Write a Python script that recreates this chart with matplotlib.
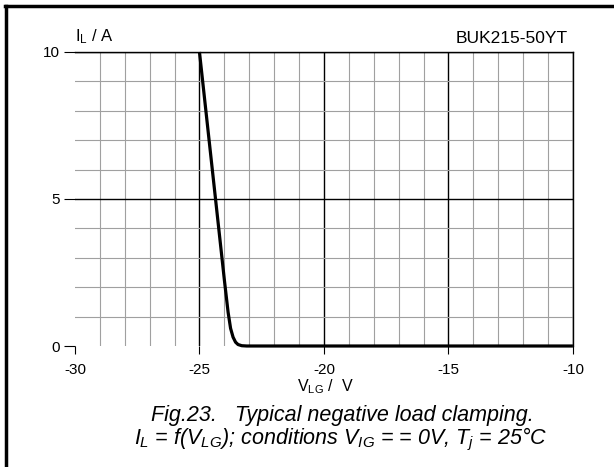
import matplotlib
matplotlib.use("Agg")
import matplotlib.pyplot as plt
from matplotlib.lines import Line2D
import numpy as np

plt.rcParams['font.family'] = ['Liberation Sans', 'DejaVu Sans']
plt.rcParams['mathtext.fontset'] = 'custom'
plt.rcParams['mathtext.rm'] = 'Liberation Sans'
plt.rcParams['mathtext.it'] = 'Liberation Sans:italic'

# curve
v_lg = [-25.0, -24.6, -24.2, -24.0, -23.85, -23.75, -23.65, -23.55, -23.45, -23.3, -23.1, -22.5, -10.0]
i_l = [10.0, 6.9, 3.8, 2.25, 1.15, 0.6, 0.3, 0.13, 0.05, 0.01, 0.0, 0.0, 0.0]

x_major = [-30, -25, -20, -15, -10]
y_major = [0, 5, 10]

fig = plt.figure(figsize=(6.14, 4.67), dpi=100)
ax = fig.add_axes([0.1221, 0.2591, 0.811, 0.6296])

ax.set_xlim(-30, -10)
ax.set_ylim(0, 10)
ax.set_xticks(x_major)
ax.set_yticks(y_major)
ax.set_xticks(np.arange(-30, -9, 1), minor=True)
ax.set_yticks(np.arange(0, 11, 1), minor=True)
ax.set_xticklabels([str(v) for v in x_major])
ax.set_yticklabels([str(v) for v in y_major])

ax.grid(which='minor', color='#a0a0a0', lw=0.8)
ax.grid(which='major', color='black', lw=1.0)
ax.xaxis.get_gridlines()[0].set_visible(False)
ax.yaxis.get_gridlines()[0].set_visible(False)
ax.set_axisbelow(True)

for s in ['left', 'bottom']:
    ax.spines[s].set_visible(False)
for s in ['top', 'right']:
    ax.spines[s].set_linewidth(1.0)

ax.tick_params(which='minor', length=0)
ax.tick_params(axis='x', which='major', direction='out', length=6, width=0.8, labelsize=11, pad=6)
ax.tick_params(axis='y', which='major', direction='out', length=8, width=0.8, labelsize=11, pad=3)

ax.plot(v_lg, i_l, color='black', lw=2.3, clip_on=False, solid_capstyle='butt', zorder=5)

ax.text(0.0, 1.02, r'I$_\mathregular{L}$ / A', transform=ax.transAxes, fontsize=12, ha='left', va='bottom')
ax.text(0.99, 1.02, 'BUK215-50YT', transform=ax.transAxes, fontsize=12.5, ha='right', va='bottom')
fig.text(0.53, 0.171, r'V$_\mathregular{LG}$ /  V', fontsize=11.5, ha='center', va='center')

fig.text(0.558, 0.0985, 'Fig.23.   Typical negative load clamping.', fontsize=15.5, style='italic',
         ha='center', va='baseline')
fig.text(0.555, 0.049, r'$I_L$ = f($V_{LG}$); conditions $V_{IG}$ = = 0V, $T_j$ = 25°C', fontsize=15.5,
         style='italic', ha='center', va='baseline')

# frame round the figure
fig.add_artist(Line2D([0.0097, 0.0097], [0.0, 0.987], transform=fig.transFigure, color='black', lw=2.5))
fig.add_artist(Line2D([0.0081, 1.0], [0.987, 0.987], transform=fig.transFigure, color='black', lw=2.5))

fig.savefig('out.png', dpi=100)
